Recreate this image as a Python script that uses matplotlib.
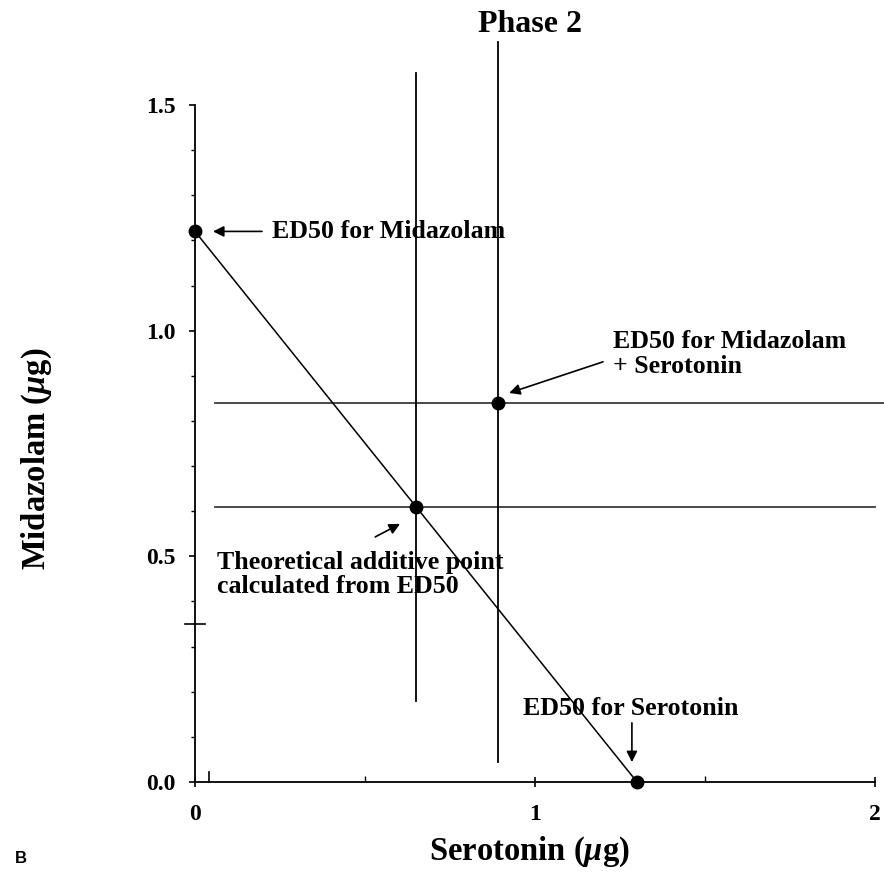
import matplotlib
matplotlib.use("Agg")
import matplotlib.pyplot as plt
from matplotlib.ticker import FixedLocator

plt.rcParams["font.family"] = "Liberation Serif"
plt.rcParams["font.weight"] = "bold"
plt.rcParams["mathtext.fontset"] = "custom"
plt.rcParams["mathtext.it"] = "Liberation Serif:italic:bold"
plt.rcParams["mathtext.rm"] = "Liberation Serif:bold"

# ─── DATOS ────────────────────────────────────────────────────────────────
# puntos ED50 (serotonina, midazolam)
pts_x = [0.0, 1.3, 0.65, 0.89]
pts_y = [1.22, 0.0, 0.61, 0.84]

# línea de aditividad (isobolo)
iso_x = [0.0, 1.3]
iso_y = [1.22, 0.0]

# intervalos (horizontales y verticales)
h_y = [0.84, 0.61]
h_x0 = [0.06, 0.06]
h_x1 = [2.03, 2.0]
v_x = [0.65, 0.89]
v_y0 = [0.18, 0.045]
v_y1 = [1.57, 1.64]

x_ticks = [0, 1, 2]
x_minor = [0.5, 1.5]
y_ticks = [0.0, 0.5, 1.0, 1.5]
y_minor = [0.1, 0.2, 0.3, 0.4, 0.6, 0.7, 0.8, 0.9, 1.1, 1.2, 1.3, 1.4]

ANN_FS = 18.6

# ─── FIGURA ───────────────────────────────────────────────────────────────
fig = plt.figure(figsize=(8.84, 8.72), dpi=100)
ax = fig.add_axes([195 / 884, 90 / 872, 689 / 884, 742 / 872])
ax.set_xlim(0, 689 / 340)
ax.set_ylim(0, 742 / 451.3)

for y, a, b in zip(h_y, h_x0, h_x1):
    ax.plot([a, b], [y, y], color="#3a3a3a", lw=1.3, clip_on=False)
for x, a, b in zip(v_x, v_y0, v_y1):
    ax.plot([x, x], [a, b], color="black", lw=1.3, clip_on=False)

ax.plot(iso_x, iso_y, color="black", lw=1.1, clip_on=False)
ax.plot(pts_x, pts_y, "o", color="black", ms=9, clip_on=False, zorder=5)

# ejes estilo publicación
for s in ["top", "right"]:
    ax.spines[s].set_visible(False)
ax.spines["left"].set_bounds(0, 1.5)
ax.spines["bottom"].set_bounds(0, 2)
ax.spines["left"].set_linewidth(1.3)
ax.spines["bottom"].set_linewidth(1.3)

ax.set_xticks(x_ticks)
ax.set_xticklabels([str(t) for t in x_ticks])
ax.xaxis.set_minor_locator(FixedLocator(x_minor))
ax.set_yticks(y_ticks)
ax.set_yticklabels([f"{t:.1f}" for t in y_ticks])
ax.yaxis.set_minor_locator(FixedLocator(y_minor))
ax.tick_params(axis="x", which="major", direction="inout", length=7, width=1.2,
               labelsize=17, pad=12)
ax.tick_params(axis="x", which="minor", direction="in", length=4, width=1.0)
ax.tick_params(axis="y", which="major", direction="out", length=4, width=1.2,
               labelsize=17, pad=10)
ax.tick_params(axis="y", which="minor", direction="out", length=3, width=1.0)

# marcas sueltas del original
ax.plot([-0.03, 0.03], [0.35, 0.35], color="black", lw=1.2, clip_on=False)
ax.plot([0.04, 0.04], [0.0, 0.022], color="black", lw=1.2, clip_on=False)

ax.set_xlabel(r"Serotonin ($\mu$g)", fontsize=23.5, fontweight="bold")
ax.xaxis.set_label_coords(0.486, -0.071)
ax.set_ylabel(r"Midazolam ($\mu$g)", fontsize=23.5, fontweight="bold")
ax.yaxis.set_label_coords(-0.205, 0.435)

# anotaciones
arr = dict(arrowstyle="-|>", color="black", lw=1.2, mutation_scale=16,
           shrinkA=0, shrinkB=0)
ax.annotate("", xy=(0.053, 1.22), xytext=(0.197, 1.22), arrowprops=arr)
ax.text(0.226, 1.22, "ED50 for Midazolam", fontsize=ANN_FS, va="center", ha="left")

ax.annotate("", xy=(0.924, 0.862), xytext=(1.2, 0.931), arrowprops=arr)
ax.text(1.23, 1.002, "ED50 for Midazolam\n+ Serotonin", fontsize=ANN_FS,
        va="top", ha="left", linespacing=1.1)

ax.annotate("", xy=(0.603, 0.572), xytext=(0.53, 0.543), arrowprops=arr)
ax.text(0.065, 0.512, "Theoretical additive point\ncalculated from ED50",
        fontsize=ANN_FS, va="top", ha="left", linespacing=1.06)

ax.annotate("", xy=(1.285, 0.044), xytext=(1.285, 0.131), arrowprops=arr)
ax.text(0.965, 0.162, "ED50 for Serotonin", fontsize=ANN_FS, va="center", ha="left")

fig.text(530 / 884, 1 - 25 / 872, "Phase 2", fontsize=23, fontweight="bold",
         ha="center", va="center")
fig.text(15 / 884, 1 - 858 / 872, "B", fontsize=12, fontweight="bold",
         family="Liberation Sans", ha="left", va="center")

fig.savefig("out.png", dpi=100)
